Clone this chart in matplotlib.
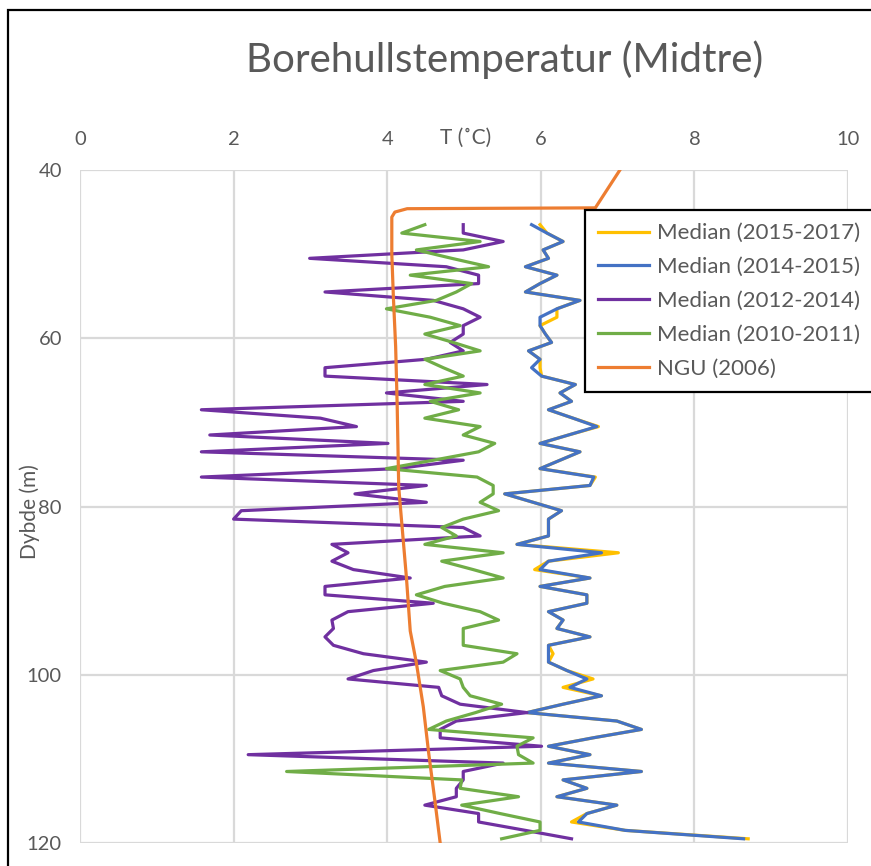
import numpy as np
import matplotlib
matplotlib.use("Agg")
import matplotlib.pyplot as plt
from matplotlib.patches import Rectangle

plt.rcParams['font.family'] = ['Lato', 'DejaVu Sans']

# depth of each logged sample (m)
depth = np.arange(46.5, 120.0, 1.0)

temp_2015_2017 = [5.99, 6.08, 6.29, 6.03, 6.10, 5.80, 6.21, 5.99, 5.80, 6.51,
                  6.21, 6.21, 5.99, 6.06, 6.14, 5.84, 5.99, 5.99, 6.01, 6.45,
                  6.25, 6.40, 6.10, 6.42, 6.75, 6.36, 5.99, 6.51, 6.25, 5.99,
                  6.71, 6.64, 5.53, 5.90, 6.27, 6.10, 6.10,
                  6.10, 5.69, 7.01, 6.10, 5.92, 6.64, 5.99, 6.60, 6.60, 6.10,
                  6.29, 6.21, 6.64, 6.10, 6.16, 6.10, 6.34, 6.68, 6.29, 6.79,
                  6.29, 5.82, 6.99, 7.31, 6.68, 6.10, 6.64, 6.10, 7.31, 6.29,
                  6.60, 6.21, 6.99, 6.60, 6.40, 7.10, 8.70]

temp_2014_2015 = [5.88, 6.08, 6.29, 6.03, 6.10, 5.80, 6.21, 5.99, 5.80, 6.51,
                  6.21, 5.99, 5.99, 6.06, 6.14, 5.84, 5.99, 5.88, 6.01, 6.45,
                  6.25, 6.40, 6.10, 6.42, 6.73, 6.36, 5.99, 6.51, 6.25, 5.99,
                  6.69, 6.64, 5.53, 5.90, 6.27, 6.10, 6.10,
                  6.10, 5.69, 6.79, 6.10, 5.99, 6.64, 5.99, 6.60, 6.60, 6.10,
                  6.29, 6.21, 6.64, 6.10, 6.10, 6.10, 6.34, 6.60, 6.38, 6.79,
                  6.29, 5.82, 6.99, 7.31, 6.68, 6.10, 6.64, 6.10, 7.31, 6.29,
                  6.60, 6.21, 6.99, 6.60, 6.49, 7.10, 8.64]

temp_2012_2014 = [4.99, 4.99, 5.51, 4.99, 2.99, 4.77, 5.19, 5.19, 3.19, 4.60,
                  4.99, 5.21, 4.99, 4.99, 4.82, 4.99, 4.51, 3.19, 3.19, 5.30,
                  3.99, 4.99, 1.58,
                  3.13, 3.60, 1.69, 4.01, 1.58, 4.99, 4.12, 1.58, 4.51, 3.58,
                  4.51, 2.10, 2.00, 4.99, 5.21, 3.28, 3.49, 3.28, 3.56, 4.30,
                  3.19, 3.19, 4.60, 3.49, 3.28, 3.30,
                  3.19, 3.30, 3.69, 4.51, 3.82, 3.49, 4.67, 4.71, 4.95, 5.82,
                  4.90, 4.69, 4.69, 6.01, 2.19, 5.51, 4.99, 4.99, 4.90, 4.90,
                  4.49, 5.19, 5.19, 5.80, 6.40]

temp_2010_2011 = [4.49, 4.19, 5.21, 4.38, 4.84, 5.32, 4.30, 5.10, 4.90, 4.64,
                  3.99, 4.56, 4.95, 4.49, 4.86, 5.21, 4.49, 4.73, 4.99, 4.49,
                  5.21, 4.56, 4.93, 4.49,
                  5.21, 4.99, 5.40, 5.19, 4.60, 3.99, 5.17, 5.38, 5.38, 5.21,
                  5.45, 4.99, 4.71, 4.90, 4.49, 5.51, 4.71, 5.12, 5.51, 4.75,
                  4.38, 4.73, 5.21, 5.45,
                  4.99, 4.99, 4.99, 5.69, 5.51, 4.69, 4.95, 4.99, 5.08, 5.49,
                  5.15, 4.77, 4.54, 5.90, 5.69, 5.71, 5.90, 2.69, 4.97, 4.95,
                  5.71, 4.97, 5.47, 5.99, 5.99, 5.49]

# NGU profile from 2006
ngu_depth = [40.0, 44.5, 44.6, 45.0, 45.6, 50.0, 55.0, 61.0, 68.0, 77.7,
             82.0, 88.4, 94.8, 98.6, 103.8, 109.3, 114.9, 120.0]
ngu_temp = [7.03, 6.71, 4.26, 4.10, 4.06, 4.06, 4.08, 4.11, 4.13, 4.15,
            4.19, 4.25, 4.30, 4.38, 4.47, 4.54, 4.62, 4.69]

grey = '#595959'

fig = plt.figure(figsize=(8.71, 8.66), dpi=100)
ax = fig.add_axes([80 / 871, 1 - 843 / 866, 768 / 871, 673 / 866])

lw = 2.3
ax.plot(temp_2015_2017, depth, color='#FFC000', lw=lw, label='Median (2015-2017)')
ax.plot(temp_2014_2015, depth, color='#4472C4', lw=lw, label='Median (2014-2015)')
ax.plot(temp_2012_2014, depth, color='#7030A0', lw=lw, label='Median (2012-2014)')
ax.plot(temp_2010_2011, depth, color='#70AD47', lw=lw, label='Median (2010-2011)')
ax.plot(ngu_temp, ngu_depth, color='#ED7D31', lw=lw, label='NGU (2006)')

ax.set_xlim(0, 10)
ax.set_ylim(120, 40)
ax.set_xticks([0, 2, 4, 6, 8, 10])
ax.set_yticks([40, 60, 80, 100, 120])
ax.xaxis.tick_top()
ax.tick_params(axis='both', length=0, labelsize=14.5, colors=grey)
ax.tick_params(axis='x', pad=16)
ax.tick_params(axis='y', pad=13)
ax.grid(True, color='#d9d9d9', lw=1.6)
ax.set_axisbelow(True)
for s in ax.spines.values():
    s.set_visible(False)

fig.text(505 / 871, 1 - 60 / 866, 'Borehullstemperatur (Midtre)', ha='center',
         va='center', fontsize=29, color=grey)
fig.text(466 / 871, 1 - 138 / 866, 'T (˚C)', ha='center', va='center',
         fontsize=15, color=grey)
fig.text(30 / 871, 1 - 512 / 866, 'Dybde (m)', ha='center', va='center',
         rotation=90, fontsize=15, color=grey)

leg = ax.legend(loc='upper left', bbox_to_anchor=(505 / 768, 633 / 673),
                borderaxespad=0, fontsize=16, frameon=True, fancybox=False,
                handlelength=2.3, handletextpad=0.35, labelspacing=0.62,
                borderpad=0.6, labelcolor=grey)
leg.get_frame().set_edgecolor('black')
leg.get_frame().set_linewidth(1.6)
leg.get_frame().set_alpha(1)

# outer chart border (cropped at right and bottom)
fig.patches.append(Rectangle((8 / 871, -0.1), 2, 1 - 10 / 866 + 0.1,
                             transform=fig.transFigure, fill=False,
                             edgecolor='black', lw=1.6))

fig.savefig('out.png', dpi=100)
